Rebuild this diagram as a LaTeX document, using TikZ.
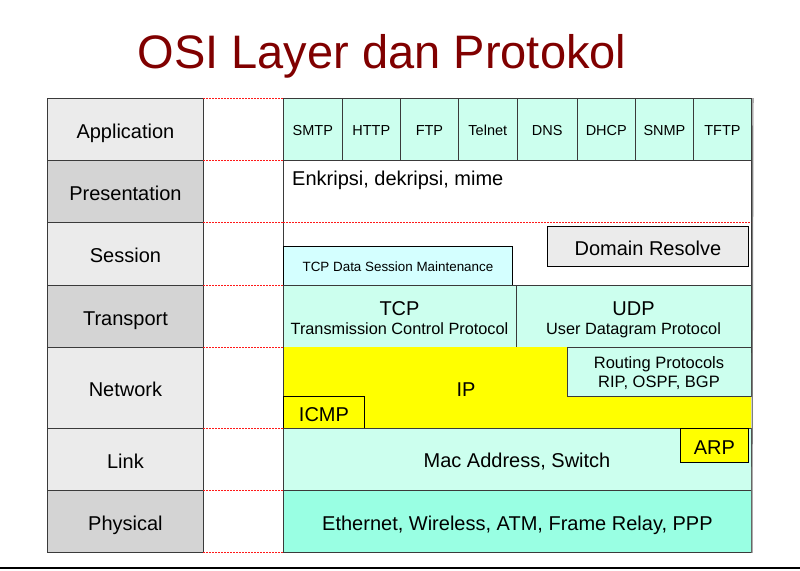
\documentclass[tikz,border=0pt]{standalone}
\usepackage{fontspec}
\setmainfont{Liberation Sans}
\definecolor{mint}{HTML}{CCFFEE}
\definecolor{lcyan}{HTML}{D4FFFF}
\definecolor{aqua}{HTML}{99FFE3}
\definecolor{lgray}{HTML}{EBEBEB}
\definecolor{mgray}{HTML}{D4D4D4}
\definecolor{ylw}{HTML}{FFFF00}
\definecolor{ttl}{HTML}{800000}
\definecolor{edge}{HTML}{3A3A3A}
\newcommand{\fs}[1]{\fontsize{#1}{#1}\selectfont}
\begin{document}
\begin{tikzpicture}[x=1pt,y=-1pt,
  cellbox/.style={draw=edge,line width=0.9pt,inner sep=0pt,anchor=north west,font=\fs{20},
    align=center,text height=18pt,text depth=0pt},
  lab/.style={cellbox,minimum width=156pt},
  proto/.style={cellbox,fill=mint,minimum height=62pt,font=\fs{14.5},text height=12.5pt},
  sep/.style={draw=red!90!white,dashed,dash pattern=on 2pt off 1pt,line width=0.7pt},
  plain/.style={inner sep=0pt}]
\useasboundingbox (0,0) rectangle (800,570);
% title
\node[plain,anchor=base,text=ttl,font=\fs{47}] (title) at (382,68) {OSI Layer dan Protokol};
% label column
\node[lab,fill=lgray,minimum height=62pt] (lapp) at (47,98) {Application};
\node[lab,fill=mgray,minimum height=62pt] (lpres) at (47,160) {Presentation};
\node[lab,fill=lgray,minimum height=63pt] (lses) at (47,222) {Session};
\node[lab,fill=mgray,minimum height=62pt] (ltra) at (47,285) {Transport};
\node[lab,fill=lgray,minimum height=81pt] (lnet) at (47,347) {Network};
\node[lab,fill=lgray,minimum height=62pt] (llnk) at (47,428) {Link};
\node[lab,fill=mgray,minimum height=62pt] (lphy) at (47,490) {Physical};
% presentation + session background
\node[cellbox,fill=white,minimum width=468pt,minimum height=125pt] (pres) at (283,160) {};
% application protocols
\node[proto,minimum width=58.7pt] (smtp) at (283,98) {SMTP};
\node[proto,minimum width=58.3pt] (http) at (341.7,98) {HTTP};
\node[proto,minimum width=58pt] (ftp) at (400,98) {FTP};
\node[proto,minimum width=58.7pt] (telnet) at (458,98) {Telnet};
\node[proto,minimum width=60pt] (dns) at (516.7,98) {DNS};
\node[proto,minimum width=58.3pt] (dhcp) at (576.7,98) {DHCP};
\node[proto,minimum width=58pt] (snmp) at (635,98) {SNMP};
\node[proto,minimum width=58pt] (tftp) at (693,98) {TFTP};
% presentation text
\node[plain,anchor=base west,font=\fs{20}] (enk) at (292,185) {Enkripsi, dekripsi, mime};
% session
\node[cellbox,draw=black,fill=lcyan,minimum width=229pt,minimum height=39pt,font=\fs{13.4},text height=11pt] (tcpses) at (283,246) {TCP Data Session Maintenance};
\node[cellbox,draw=black,fill=lgray,minimum width=201pt,minimum height=40pt] (domres) at (547,226) {Domain Resolve};
% transport
\node[cellbox,fill=mint,minimum width=233pt,minimum height=62pt] (tcp) at (283,285) {};
\node[cellbox,fill=mint,minimum width=235pt,minimum height=62pt] (udp) at (516,285) {};
\node[plain,anchor=base,font=\fs{20}] (tcp1) at (399.5,315) {TCP};
\node[plain,anchor=base,font=\fs{16.3}] (tcp2) at (399.5,334) {Transmission Control Protocol};
\node[plain,anchor=base,font=\fs{20}] (udp1) at (633.5,315) {UDP};
\node[plain,anchor=base,font=\fs{16.3}] (udp2) at (633.5,334) {User Datagram Protocol};
% network
\fill[ylw] (283,347) -- (567,347) -- (567,396) -- (751,396) -- (751,428) -- (283,428) -- cycle;
\draw[edge,line width=0.9pt] (283,347) -- (283,428);
\node[cellbox,fill=mint,minimum width=184pt,minimum height=49pt] (rout) at (567,347) {};
\node[plain,anchor=base,font=\fs{16.5}] (rout1) at (659,368) {Routing Protocols};
\node[plain,anchor=base,font=\fs{16.5}] (rout2) at (659,387) {RIP, OSPF, BGP};
\node[cellbox,draw=black,fill=ylw,minimum width=81pt,minimum height=32pt] (icmp) at (283,396) {ICMP};
\node[plain,anchor=base,font=\fs{20}] (ip) at (466,396) {IP};
% link
\node[cellbox,fill=mint,minimum width=468pt,minimum height=62pt] (link) at (283,428) {};
\node[plain,anchor=base,font=\fs{20}] (mac) at (517,467) {Mac Address, Switch};
\node[cellbox,draw=black,fill=ylw,minimum width=68pt,minimum height=34pt] (arp) at (680,428) {ARP};
% physical
\node[cellbox,fill=aqua,minimum width=468pt,minimum height=62pt] (phy) at (283,490) {Ethernet, Wireless, ATM, Frame Relay, PPP};
% right edge shade
\draw[gray,line width=1.2pt] (pres.north east) ++(1,-62) -- (phy.south east);
% red dashed separators
\foreach \yy in {98,160,222,285,347,428,490,552} {
  \draw[sep] (203,\yy) -- (283,\yy);
}
\draw[sep] (283,222) -- (751,222);
% bottom rule
\coordinate (bl) at (0,568);
\coordinate (br) at (800,568);
\draw[black,line width=1.4pt] (bl) -- (br);
\end{tikzpicture}
\end{document}
